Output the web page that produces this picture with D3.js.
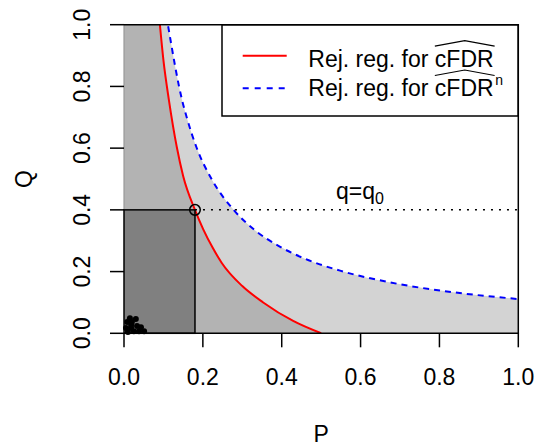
<!DOCTYPE html>
<html>
<head>
<meta charset="utf-8">
<style>
  body { margin: 0; background: #fff; }
  svg { font-family: 'Liberation Sans', Arial, sans-serif; }
</style>
</head>
<body>
<svg width="535" height="447"></svg>
<script src="https://d3js.org/d3.v7.min.js"></script>
<script>
// axis ticks
let pTicks = [0, 0.2, 0.4, 0.6, 0.8, 1.0];
let qTicks = [0, 0.2, 0.4, 0.6, 0.8, 1.0];

// rejection region boundary for cFDR-hat (red)
let redP = [0.091, 0.100, 0.114, 0.134, 0.150, 0.180, 0.201, 0.225, 0.248, 0.300, 0.353, 0.429, 0.500];
let redQ = [1.000, 0.885, 0.755, 0.603, 0.510, 0.400, 0.337, 0.277, 0.228, 0.153, 0.100, 0.040, 0.000];

// rejection region boundary for cFDR-hat^n (blue dashed)
let blueP = [0.112, 0.148, 0.159, 0.184, 0.222, 0.278, 0.332, 0.395, 0.460, 0.548, 0.691, 0.835, 1.000];
let blueQ = [0.995, 0.752, 0.700, 0.602, 0.500, 0.400, 0.334, 0.281, 0.241, 0.203, 0.161, 0.133, 0.111];

// observed points near origin
let ptP = [0.015, 0.008, 0.020, 0.005, 0.018, 0.030, 0.033, 0.043, 0.051, 0.038, 0.025, 0.010, 0.018];
let ptQ = [0.049, 0.037, 0.037, 0.017, 0.017, 0.046, 0.024, 0.020, 0.007, 0.007, 0.007, 0.004, 0.027];

let p0 = 0.18, q0 = 0.4;

let svg = d3.select("svg");
let x = d3.scaleLinear().domain([0, 1]).range([124, 518.3]);
let y = d3.scaleLinear().domain([0, 1]).range([333.3, 24.7]);

svg.append("clipPath").attr("id", "plotclip")
  .append("rect").attr("x", x(0)).attr("y", y(1))
  .attr("width", x(1) - x(0)).attr("height", y(0) - y(1));

let g = svg.append("g").attr("clip-path", "url(#plotclip)");

let line = d3.line().x(d => x(d[0])).y(d => y(d[1])).curve(d3.curveMonotoneX);
let redPts = redP.map((p, i) => [p, redQ[i]]);
let bluePts = blueP.map((p, i) => [p, blueQ[i]]);

function region(pts) {
  let c = line(pts).replace(/^M/, "L");
  let last = pts[pts.length - 1];
  return "M" + x(0) + "," + y(0) + "L" + x(0) + "," + y(1) + c +
    "L" + x(last[0]) + "," + y(0) + "Z";
}

// light grey: below blue curve
g.append("path").attr("d", region(bluePts)).attr("fill", "#d3d3d3");
// medium grey: below red curve
g.append("path").attr("d", region(redPts)).attr("fill", "#b3b3b3");

// left edge of grey region
svg.append("line").attr("x1", x(0)).attr("x2", x(0)).attr("y1", y(1)).attr("y2", y(q0))
  .attr("stroke", "#999").attr("stroke-width", 1.2);

// dark rectangle
svg.append("rect")
  .attr("x", x(0)).attr("y", y(q0))
  .attr("width", x(p0) - x(0)).attr("height", y(0) - y(q0))
  .attr("fill", "#808080").attr("stroke", "#000").attr("stroke-width", 1.5);

// dotted q = q0
svg.append("line").attr("x1", x(p0)).attr("x2", x(1)).attr("y1", y(q0)).attr("y2", y(q0))
  .attr("stroke", "#000").attr("stroke-width", 1.5).attr("stroke-dasharray", "2,6");

// curves
g.append("path").attr("d", line(bluePts)).attr("fill", "none")
  .attr("stroke", "#0000ff").attr("stroke-width", 2).attr("stroke-dasharray", "6,5");
g.append("path").attr("d", line(redPts)).attr("fill", "none")
  .attr("stroke", "#ff0000").attr("stroke-width", 2);

// points
svg.append("g").selectAll("circle").data(ptP).join("circle")
  .attr("cx", d => x(d)).attr("cy", (d, i) => y(ptQ[i])).attr("r", 3).attr("fill", "#000");

// circle at (p0, q0)
svg.append("circle").attr("cx", x(p0)).attr("cy", y(q0)).attr("r", 5.3)
  .attr("fill", "none").attr("stroke", "#000").attr("stroke-width", 1.5);

// box
svg.append("path")
  .attr("d", `M${x(0)},${y(0)}L${x(1)},${y(0)}L${x(1)},${y(1)}L${x(0)},${y(1)}`)
  .attr("fill", "none").attr("stroke", "#000").attr("stroke-width", 1.5);

// axes
let xAxis = svg.append("g");
xAxis.selectAll("line").data(pTicks).join("line")
  .attr("x1", d => x(d)).attr("x2", d => x(d)).attr("y1", y(0)).attr("y2", y(0) + 14)
  .attr("stroke", "#000").attr("stroke-width", 1.5);
xAxis.selectAll("text").data(pTicks).join("text")
  .attr("x", d => x(d)).attr("y", 385).attr("text-anchor", "middle")
  .attr("font-size", 23).text(d => d.toFixed(1));

let yAxis = svg.append("g");
yAxis.selectAll("line").data(qTicks).join("line")
  .attr("x1", x(0) - 14).attr("x2", x(0)).attr("y1", d => y(d)).attr("y2", d => y(d))
  .attr("stroke", "#000").attr("stroke-width", 1.5);
yAxis.selectAll("text").data(qTicks).join("text")
  .attr("transform", d => `translate(90,${y(d)}) rotate(-90)`)
  .attr("text-anchor", "middle").attr("font-size", 23).text(d => d.toFixed(1));

svg.append("text").attr("x", (x(0) + x(1)) / 2).attr("y", 441.7)
  .attr("text-anchor", "middle").attr("font-size", 23).text("P");
svg.append("text").attr("transform", `translate(32,${(y(0) + y(1)) / 2}) rotate(-90)`)
  .attr("text-anchor", "middle").attr("font-size", 23).text("Q");

// q = q0 label
let ql = svg.append("text").attr("x", 336).attr("y", 198.5).attr("font-size", 23);
ql.append("tspan").text("q=q");
ql.append("tspan").attr("font-size", 16).attr("dy", 5).text("0");

// legend
let leg = svg.append("g");
leg.append("rect").attr("x", 222).attr("y", 25).attr("width", 296).attr("height", 91)
  .attr("fill", "#fff").attr("stroke", "#000").attr("stroke-width", 1.5);
let rows = [
  { color: "#ff0000", dash: null, ly: 55.7, base: 66.7, sup: "" },
  { color: "#0000ff", dash: "6,6", ly: 88.3, base: 96, sup: "n" }
];
rows.forEach(r => {
  leg.append("line").attr("x1", 242.7).attr("x2", 286.7).attr("y1", r.ly).attr("y2", r.ly)
    .attr("stroke", r.color).attr("stroke-width", 2).attr("stroke-dasharray", r.dash);
  let t1 = leg.append("text").attr("x", 308.3).attr("y", r.base).attr("font-size", 23)
    .attr("xml:space", "preserve").text("Rej. reg. for ");
  let w1 = t1.node().getComputedTextLength();
  let t2 = leg.append("text").attr("x", 308.3 + w1).attr("y", r.base).attr("font-size", 23).text("cFDR");
  let w2 = t2.node().getComputedTextLength();
  let hx0 = 308.3 + w1, hx1 = hx0 + w2 + 1;
  leg.append("path")
    .attr("d", `M${hx0},${r.base - 20.5}L${(hx0 + hx1) / 2},${r.base - 26}L${hx1},${r.base - 20.5}`)
    .attr("fill", "none").attr("stroke", "#000").attr("stroke-width", 1.2);
  if (r.sup) {
    leg.append("text").attr("x", hx1 + 0.5).attr("y", r.base - 11).attr("font-size", 14).text(r.sup);
  }
});
</script>
</body>
</html>
